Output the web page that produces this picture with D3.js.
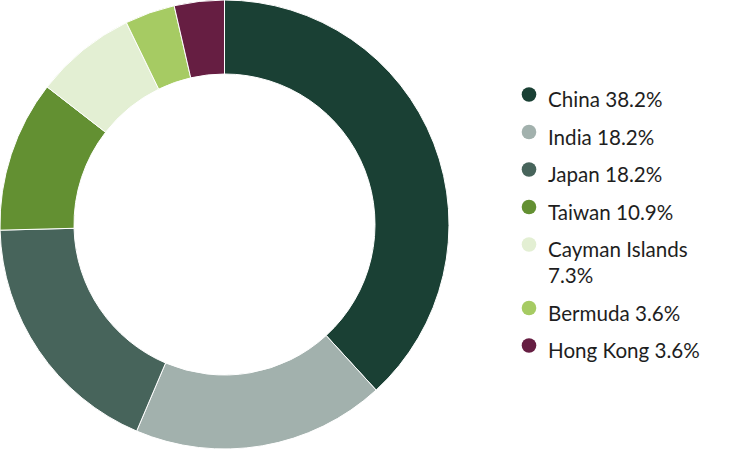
<!DOCTYPE html>
<html>
<head>
<meta charset="utf-8">
<script src="https://cdn.jsdelivr.net/npm/d3@7"></script>
<style>
  body { margin: 0; background: #fff; }
  svg { display: block; font-family: Lato, "Open Sans", sans-serif; }
</style>
</head>
<body>
<svg id="svg" width="750" height="450"></svg>
<script>
const countries = ["China", "India", "Japan", "Taiwan", "Cayman Islands", "Bermuda", "Hong Kong"];
const shares = [38.2, 18.2, 18.2, 10.9, 7.3, 3.6, 3.6];
const colors = ["#1a4034", "#a2b1ad", "#47645b", "#639032", "#e3efd3", "#a6cb63", "#661e42"];

const svg = d3.select("#svg");
const data = countries.map((c, i) => ({ name: c, value: shares[i], color: colors[i] }));

const cx = 224.5, cy = 224.5;
const outerR = 224.5, innerR = 150.5;

const pie = d3.pie().sort(null).value(d => d.value);
const arc = d3.arc().innerRadius(innerR).outerRadius(outerR);

svg.append("g")
  .attr("transform", `translate(${cx},${cy})`)
  .selectAll("path")
  .data(pie(data))
  .join("path")
  .attr("d", arc)
  .attr("fill", d => d.data.color)
  .attr("stroke", "#fff")
  .attr("stroke-width", 1);

// legend
const legend = svg.append("g").attr("transform", "translate(529, 107)");
const rowGap = 37.5, lineGap = 26, maxWidth = 170;
let y = 0;
data.forEach(d => {
  const item = legend.append("g").attr("transform", `translate(0, ${y})`);
  item.append("circle")
    .attr("cx", 0)
    .attr("cy", -12.5)
    .attr("r", 7.3)
    .attr("fill", d.color);
  const text = item.append("text")
    .attr("x", 19)
    .attr("y", 0)
    .attr("font-size", 20.6)
    .attr("fill", "#1e1e1e");
  // simple word wrap
  const words = `${d.name} ${d.value.toFixed(1)}%`.split(" ");
  let line = [];
  let lines = 0;
  let tspan = text.append("tspan").attr("x", 19).attr("dy", 0);
  words.forEach(w => {
    line.push(w);
    tspan.text(line.join(" "));
    if (tspan.node().getComputedTextLength() > maxWidth && line.length > 1) {
      line.pop();
      tspan.text(line.join(" "));
      line = [w];
      lines++;
      tspan = text.append("tspan").attr("x", 19).attr("dy", lineGap).text(w);
    }
  });
  y += rowGap + lines * lineGap;
});
</script>
</body>
</html>
